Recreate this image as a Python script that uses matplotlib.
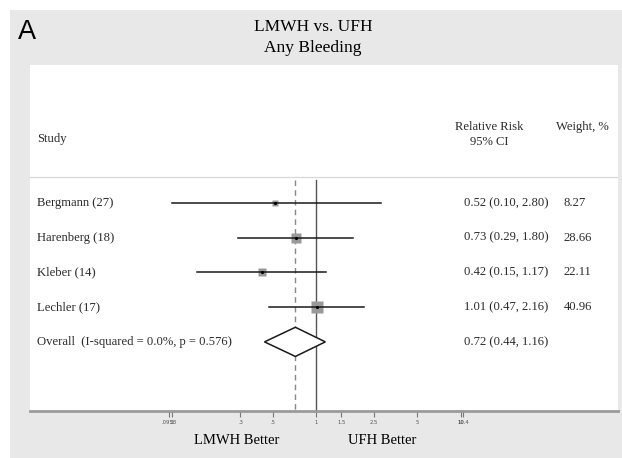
import matplotlib
matplotlib.use("Agg")
import matplotlib.pyplot as plt
import matplotlib.transforms as mtransforms
from matplotlib.patches import Rectangle, Polygon

# study rows
studies = ["Bergmann (27)", "Harenberg (18)", "Kleber (14)", "Lechler (17)"]
rr = [0.52, 0.73, 0.42, 1.01]
ci_low = [0.10, 0.29, 0.15, 0.47]
ci_high = [2.80, 1.80, 1.17, 2.16]
weights = [8.27, 28.66, 22.11, 40.96]

# pooled estimate
overall_label = "Overall  (I-squared = 0.0%, p = 0.576)"
overall_rr = 0.72
overall_low = 0.44
overall_high = 1.16

tick_vals = [0.0958, 0.1, 0.3, 0.5, 1, 1.5, 2.5, 5, 10, 10.4]
tick_labels = [".0958", ".1", ".3", ".5", "1", "1.5", "2.5", "5", "10", "10.4"]

serif = "Liberation Serif"
txt_col = "#2b2b2b"
W, H = 622, 458
fig = plt.figure(figsize=(W / 100, H / 100), dpi=100)
fig.patch.set_facecolor("white")

# gray panel behind everything
fig.patches.append(Rectangle((10 / W, 0), 1 - 10 / W, 1 - 10 / H,
                             transform=fig.transFigure, facecolor="#e8e8e8",
                             edgecolor="none", zorder=-5))

fig.text(18 / W, 1 - 32 / H, "A", family="Liberation Sans", fontsize=19.5,
         va="center", ha="left")
fig.text(313 / W, 1 - 27 / H, "LMWH vs. UFH", family=serif, fontsize=12.5,
         ha="center", va="center")
fig.text(313 / W, 1 - 48 / H, "Any Bleeding", family=serif, fontsize=12.5,
         ha="center", va="center")

ax = fig.add_axes([30 / W, 1 - 411 / H, 588 / W, 346 / H])
ax.set_zorder(2)
ax.set_facecolor("white")
ax.set_xscale("log")
ax.set_xlim(0.01049, 123.0)
ax.set_ylim(6.99, -2.97)
for s in ["top", "left", "right"]:
    ax.spines[s].set_visible(False)
ax.spines["bottom"].set_color("#9a9a9a")
ax.spines["bottom"].set_linewidth(2)
ax.set_yticks([])
ax.set_xticks(tick_vals)
ax.set_xticklabels(tick_labels)
ax.xaxis.set_minor_locator(matplotlib.ticker.NullLocator())
ax.tick_params(axis="x", length=4, width=0.8, color="#777777", labelsize=3.8,
               labelcolor="#555555", pad=2.5)

tr = mtransforms.blended_transform_factory(ax.transAxes, ax.transData)

# header
fs = 9.1
ax.text(0.012, -0.84, "Study", transform=tr, family=serif, fontsize=fs,
        va="center", color=txt_col)
ax.text(0.781, -1.19, "Relative Risk", transform=tr, family=serif, fontsize=fs,
        va="center", ha="center", color=txt_col)
ax.text(0.781, -0.76, "95% CI", transform=tr, family=serif, fontsize=fs,
        va="center", ha="center", color=txt_col)
ax.text(0.939, -1.19, "Weight, %", transform=tr, family=serif, fontsize=fs,
        va="center", ha="center", color=txt_col)
ax.plot([0, 1], [0.25, 0.25], transform=tr, color="#d8d8d8", lw=0.9)

# reference lines
ax.plot([1, 1], [0.34, 6.99], color="#555555", lw=1, zorder=1)
ax.plot([overall_rr, overall_rr], [0.34, 6.99], color="#888888", lw=1,
        ls=(0, (4, 3)), zorder=1)

for i, name in enumerate(studies):
    y = i + 1
    ax.plot([ci_low[i], ci_high[i]], [y, y], color="#1a1a1a", lw=1.1, zorder=3)
    side = 1.8 * weights[i] ** 0.5
    ax.plot(rr[i], y, marker="s", ms=side * 0.72, color="#999999",
            mec="none", zorder=2)
    ax.plot(rr[i], y, marker="o", ms=2.3, color="black", mec="none", zorder=4)
    ax.text(0.012, y, name, transform=tr, family=serif, fontsize=fs,
            va="center", color=txt_col)
    ax.text(0.738, y, f"{rr[i]:.2f} ({ci_low[i]:.2f}, {ci_high[i]:.2f})",
            transform=tr, family=serif, fontsize=fs, va="center", color=txt_col)
    ax.text(0.908, y, f"{weights[i]:.2f}", transform=tr, family=serif,
            fontsize=fs, va="center", color=txt_col)

yo = len(studies) + 1
diamond = Polygon([[overall_low, yo], [overall_rr, yo - 0.42],
                   [overall_high, yo], [overall_rr, yo + 0.42]],
                  closed=True, facecolor="white", edgecolor="#1a1a1a", lw=1.1,
                  zorder=3)
ax.add_patch(diamond)
ax.text(0.012, yo, overall_label, transform=tr, family=serif, fontsize=fs,
        va="center", color=txt_col)
ax.text(0.738, yo, f"{overall_rr:.2f} ({overall_low:.2f}, {overall_high:.2f})",
        transform=tr, family=serif, fontsize=fs, va="center", color=txt_col)

fig.text(237 / W, 1 - 440 / H, "LMWH Better", family=serif, fontsize=10.5,
         ha="center", va="center")
fig.text(382 / W, 1 - 440 / H, "UFH Better", family=serif, fontsize=10.5,
         ha="center", va="center")

fig.savefig("out.png", dpi=100)
